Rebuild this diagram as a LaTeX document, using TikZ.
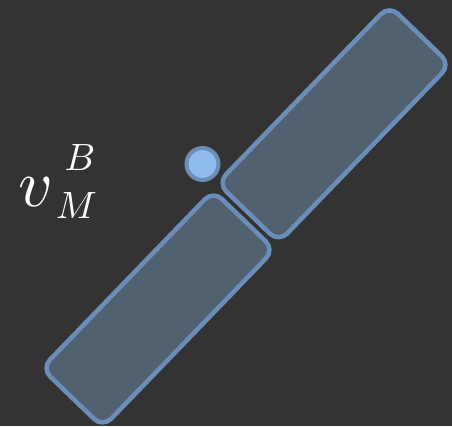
\documentclass[tikz,border=0pt]{standalone}
\definecolor{bgc}{HTML}{333333}
\definecolor{linkfill}{HTML}{526170}
\definecolor{linkstroke}{HTML}{6A8EB8}
\definecolor{jointfill}{HTML}{8FBCEB}
\begin{document}
\begin{tikzpicture}[x=1pt,y=1pt,
  linkbox/.style={draw=linkstroke, fill=linkfill, line width=4.5pt, rounded corners=12pt,
    minimum width=247pt, minimum height=85pt, inner sep=0pt, rotate=46},
  jointdot/.style={circle, draw=linkstroke, fill=jointfill, line width=4pt, minimum size=32pt, inner sep=0pt},
  lbl/.style={text=white, inner sep=0pt, anchor=base}]
\fill[bgc] (0,0) rectangle (452,426);
\useasboundingbox (0,0) rectangle (452,426);
\node[linkbox] (upper) at (334,302.2) {};
\node[linkbox] (lower) at (158,117) {};
\node[jointdot] (joint) at (202.5,262) {};
\node[lbl] (v) at (36,219.3) {\scalebox{6.7}{$v$}};
\node[lbl] (sup) at (80,255) {\scalebox{3.8}{$B$}};
\node[lbl] (sub) at (76.5,207.7) {\scalebox{3.8}{$M$}};
\end{tikzpicture}
\end{document}
